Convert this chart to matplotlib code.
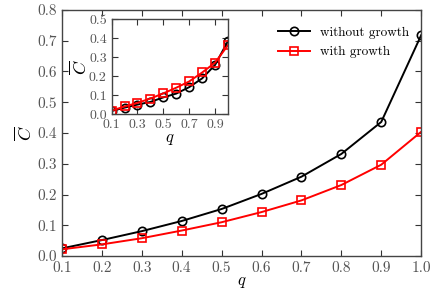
import numpy as np
import matplotlib
matplotlib.use('Agg')
import matplotlib.pyplot as plt

plt.rcParams['font.family'] = 'serif'
plt.rcParams['font.serif'] = ['cmr10', 'DejaVu Serif']
plt.rcParams['mathtext.fontset'] = 'cm'
plt.rcParams['axes.unicode_minus'] = False
plt.rcParams['axes.formatter.use_mathtext'] = True

# data
q = [0.1, 0.2, 0.3, 0.4, 0.5, 0.6, 0.7, 0.8, 0.9, 1.0]
c_without = [0.025, 0.052, 0.081, 0.114, 0.153, 0.202, 0.258, 0.332, 0.436, 0.718]
c_with = [0.022, 0.038, 0.058, 0.083, 0.110, 0.143, 0.181, 0.231, 0.297, 0.404]

inset_without = [0.017, 0.035, 0.051, 0.065, 0.089, 0.109, 0.143, 0.189, 0.260, 0.386]
inset_with = [0.019, 0.041, 0.060, 0.083, 0.110, 0.140, 0.173, 0.220, 0.272, 0.364]

main_xticks = [0.1, 0.2, 0.3, 0.4, 0.5, 0.6, 0.7, 0.8, 0.9, 1.0]
main_yticks = [0.0, 0.1, 0.2, 0.3, 0.4, 0.5, 0.6, 0.7, 0.8]
inset_xticks = [0.1, 0.3, 0.5, 0.7, 0.9]
inset_yticks = [0.0, 0.1, 0.2, 0.3, 0.4, 0.5]


def style_axes(ax, size):
    ax.tick_params(direction='in', top=True, right=True, labelsize=size,
                   colors='#333333', labelcolor='#555555', length=4, width=0.8)
    for s in ax.spines.values():
        s.set_color('#444444')
        s.set_linewidth(1.0)
    ax.xaxis.set_major_formatter(plt.FormatStrFormatter('%.1f'))
    ax.yaxis.set_major_formatter(plt.FormatStrFormatter('%.1f'))


fig = plt.figure(figsize=(4.36, 2.93), dpi=100)
ax = fig.add_axes([0.142, 0.126, 0.824, 0.840])
ax.plot(q, c_without, 'o-', color='black', mfc='none', ms=6, mew=1.2, lw=1.4,
        label='without growth')
ax.plot(q, c_with, 's-', color='red', mfc='none', ms=5.5, mew=1.2, lw=1.4,
        label='with growth')
ax.set_xlim(0.1, 1.0)
ax.set_ylim(0.0, 0.8)
ax.set_xticks(main_xticks)
ax.set_yticks(main_yticks)
style_axes(ax, 11)
ax.set_xlabel(r'$q$', fontsize=12, labelpad=0)
ax.set_ylabel(r'$\overline{C}$', fontsize=13, labelpad=2)
ax.legend(loc='upper right', frameon=False, fontsize=9.5, bbox_to_anchor=(1.0, 0.98),
          handlelength=2.4, labelspacing=0.55)

ins = fig.add_axes([0.256, 0.61, 0.267, 0.324])
ins.plot(q, inset_without, 'o-', color='black', mfc='none', ms=6, mew=1.2, lw=1.4)
ins.plot(q, inset_with, 's-', color='red', mfc='none', ms=5.5, mew=1.2, lw=1.4)
ins.set_xlim(0.1, 1.0)
ins.set_ylim(0.0, 0.5)
ins.set_xticks(inset_xticks)
ins.set_yticks(inset_yticks)
style_axes(ins, 10)
ins.set_xlabel(r'$q$', fontsize=12, labelpad=0)
ins.set_ylabel(r'$\overline{C}$', fontsize=13, labelpad=0)

fig.savefig('out.png', dpi=100)
